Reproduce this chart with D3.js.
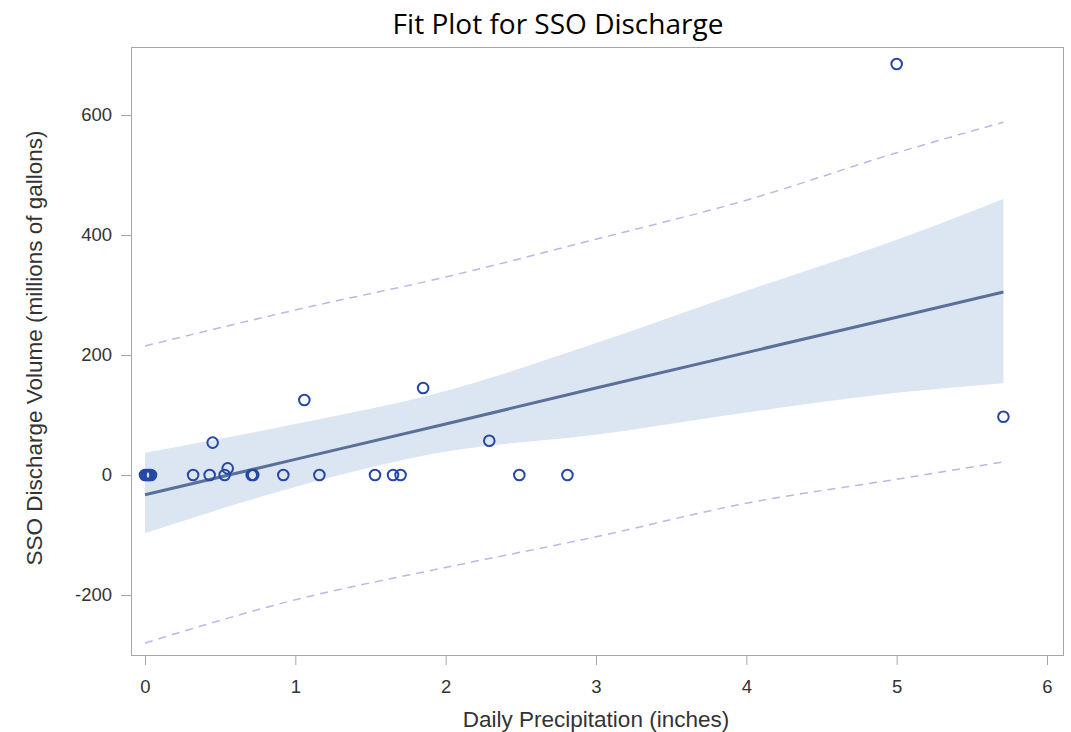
<!DOCTYPE html>
<html lang="en">
<head>
<meta charset="UTF-8">
<title>Fit Plot for SSO Discharge</title>
<style>
    body { margin: 0; background: #fff; }
    .title { font: 28px "Open Sans", sans-serif; fill: #000; }
    .tick-label { font: 18.5px "Liberation Sans", Arial, sans-serif; fill: #333; }
    .axis-label { font: 22.5px "Liberation Sans", Arial, sans-serif; fill: #333; }
</style>
</head>
<body>
<svg id="chart" width="1071" height="732"></svg>
<script src="https://d3js.org/d3.v7.min.js"></script>
<script>
// observed points: precipitation (inches) and discharge (millions of gallons)
const precip = [0, 0.01, 0.02, 0.03, 0.04, 0.32, 0.43, 0.45, 0.53, 0.55, 0.71, 0.72, 0.92,
                1.06, 1.16, 1.53, 1.65, 1.70, 1.85, 2.29, 2.49, 2.81, 5.0, 5.71];
const discharge = [0, 0, 0, 0, 0, 0, 0, 54, 0, 11, 0, 0, 0,
                   125, 0, 0, 0, 0, 145, 57, 0, 0, 685, 97];

// fit line and limits read at these x positions
const fitX = [0, 1, 2, 3, 4, 5, 5.71];
const fitY = [-33, 26, 85, 145, 204, 263, 305];
const clmUpper = [37, 85, 140, 220, 307, 392, 460];
const clmLower = [-97, -20, 39, 67, 104, 137, 153];
const cliUpper = [215, 275, 330, 393, 458, 537, 588];
const cliLower = [-280, -208, -154, -103, -47, -7, 22];

const xTicks = [0, 1, 2, 3, 4, 5, 6];
const yTicks = [-200, 0, 200, 400, 600];

const svg = d3.select("#chart");
const frame = {left: 131, right: 1063, top: 47, bottom: 655};

const x = d3.scaleLinear().domain([0, 6]).range([145, 1047]);
const y = d3.scaleLinear().domain([0, 600]).range([475, 115]);

const fitRows = fitX.map((d, i) => ({x: d, fit: fitY[i], lo: clmLower[i], hi: clmUpper[i],
                                     plo: cliLower[i], phi: cliUpper[i]}));

// confidence band
svg.append("path")
    .datum(fitRows)
    .attr("fill", "#dce6f2")
    .attr("d", d3.area().curve(d3.curveMonotoneX)
        .x(d => x(d.x)).y0(d => y(d.lo)).y1(d => y(d.hi)));

// prediction limits
["plo", "phi"].forEach(k => {
    svg.append("path")
        .datum(fitRows)
        .attr("fill", "none")
        .attr("stroke", "#b6bae4")
        .attr("stroke-width", 1.5)
        .attr("stroke-dasharray", "8,6")
        .attr("d", d3.line().curve(d3.curveMonotoneX).x(d => x(d.x)).y(d => y(d[k])));
});

// fit line
svg.append("path")
    .datum(fitRows)
    .attr("fill", "none")
    .attr("stroke", "#5a7099")
    .attr("stroke-width", 3)
    .attr("d", d3.line().x(d => x(d.x)).y(d => y(d.fit)));

// points
svg.selectAll("circle.pt")
    .data(precip.map((d, i) => ({x: d, y: discharge[i]})))
    .enter().append("circle")
    .attr("class", "pt")
    .attr("cx", d => x(d.x))
    .attr("cy", d => y(d.y))
    .attr("r", 5.3)
    .attr("fill", "none")
    .attr("stroke", "#2447a8")
    .attr("stroke-width", 2);

// frame
svg.append("rect")
    .attr("x", frame.left + 0.5).attr("y", frame.top + 0.5)
    .attr("width", frame.right - frame.left).attr("height", frame.bottom - frame.top)
    .attr("fill", "none").attr("stroke", "#a6a6a6");

// axes
const xAxis = svg.append("g")
    .attr("transform", `translate(0,${frame.bottom + 1})`)
    .call(d3.axisBottom(x).tickValues(xTicks).tickSize(9).tickPadding(15).tickFormat(d => String(d)));
const yAxis = svg.append("g")
    .attr("transform", `translate(${frame.left},0)`)
    .call(d3.axisLeft(y).tickValues(yTicks).tickSize(10).tickPadding(9).tickFormat(d => String(d)));
[xAxis, yAxis].forEach(g => {
    g.select(".domain").remove();
    g.selectAll(".tick line").attr("stroke", "#a6a6a6");
    g.selectAll(".tick text").attr("class", "tick-label").attr("fill", null).attr("font-family", null).attr("font-size", null);
});

svg.append("text").attr("class", "title")
    .attr("x", 558).attr("y", 34).attr("text-anchor", "middle")
    .text("Fit Plot for SSO Discharge");

svg.append("text").attr("class", "axis-label")
    .attr("x", 596).attr("y", 727).attr("text-anchor", "middle")
    .text("Daily Precipitation (inches)");

svg.append("text").attr("class", "axis-label")
    .attr("transform", "translate(42,348) rotate(-90)")
    .attr("text-anchor", "middle")
    .text("SSO Discharge Volume (millions of gallons)");
</script>
</body>
</html>
